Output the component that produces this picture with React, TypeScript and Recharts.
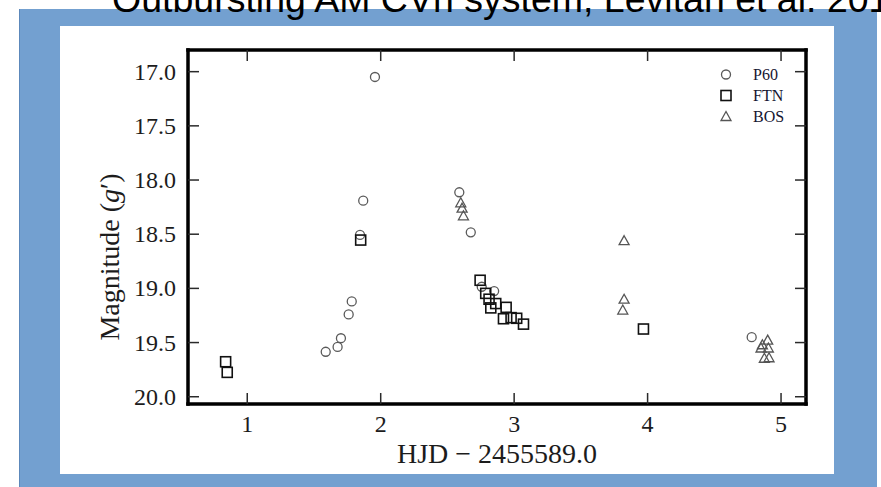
import React from 'react';
import { ScatterChart, Scatter, XAxis, YAxis, Legend } from 'recharts';

// ---- data ----
const p60X = [1.957, 1.869, 1.845, 1.783, 1.760, 1.702, 1.677, 1.588, 2.589, 2.675, 2.850, 2.757, 4.780];
const p60Y = [17.049, 18.191, 18.507, 19.120, 19.240, 19.460, 19.540, 19.585, 18.113, 18.483, 19.025, 18.985, 19.450];

const ftnX = [0.838, 0.850, 1.850, 2.745, 2.787, 2.812, 2.825, 2.862, 2.940, 2.920, 2.977, 3.019, 3.070, 3.969];
const ftnY = [19.677, 19.775, 18.554, 18.925, 19.046, 19.100, 19.180, 19.140, 19.175, 19.280, 19.270, 19.276, 19.330, 19.375];

const bosX = [2.600, 2.610, 2.620, 3.824, 3.824, 3.814, 4.900, 4.860, 4.850, 4.905, 4.875, 4.910];
const bosY = [18.210, 18.260, 18.330, 18.560, 19.100, 19.200, 19.477, 19.520, 19.550, 19.550, 19.645, 19.640];

const seriesNames = ['P60', 'FTN', 'BOS'];
const xTicks = [1, 2, 3, 4, 5];
const yTicks = [17.0, 17.5, 18.0, 18.5, 19.0, 19.5, 20.0];
const xDomain = [0.556, 5.187];
const yDomain = [16.8, 20.067];
const xLabel = 'HJD \u2212 2455589.0';
const yLabelMain = 'Magnitude (';
const yLabelVar = 'g';
const yLabelEnd = '\u2032)';
const titleText = 'Outbursting AM CVn system, Levitan et al. 2011';

const toPoints = (xs: number[], ys: number[]) => xs.map((x, i) => ({ x, y: ys[i] }));
const p60 = toPoints(p60X, p60Y);
const ftn = toPoints(ftnX, ftnY);
const bos = toPoints(bosX, bosY);

// ---- styles ----
const serif = "'Liberation Serif', 'Times New Roman', serif";
const textColor = '#1c1c1c';
const tickStroke = '#2a2a2a';
const frame = { stroke: '#000', strokeWidth: 3.5, strokeLinecap: 'square' as const };
const blue = '#73a0d0';

// ---- markers ----
const CircleMark = (p: any) => (
  <circle cx={p.cx} cy={p.cy} r={4.5} fill="none" stroke="#5a5a5a" strokeWidth={1.3} />
);
const SquareMark = (p: any) => (
  <rect x={p.cx - 5} y={p.cy - 5} width={10} height={10} fill="none" stroke="#111" strokeWidth={1.6} />
);
const TriMark = (p: any) => (
  <path
    d={`M${p.cx},${p.cy - 5} L${p.cx + 5},${p.cy + 4} L${p.cx - 5},${p.cy + 4} Z`}
    fill="none"
    stroke="#555"
    strokeWidth={1.3}
  />
);
const markers = [CircleMark, SquareMark, TriMark];

// ---- ticks ----
const BottomTick = (p: any) => (
  <g>
    <line x1={p.x} x2={p.x} y1={p.y} y2={p.y - 11} stroke={tickStroke} strokeWidth={1.5} />
    <text x={p.x} y={p.y + 28} textAnchor="middle" fontFamily={serif} fontSize={24} fill={textColor}>
      {p.payload.value}
    </text>
  </g>
);
const TopTick = (p: any) => (
  <line x1={p.x} x2={p.x} y1={p.y} y2={p.y + 11} stroke={tickStroke} strokeWidth={1.5} />
);
const LeftTick = (p: any) => (
  <g>
    <line x1={p.x} x2={p.x + 11} y1={p.y} y2={p.y} stroke={tickStroke} strokeWidth={1.5} />
    <text x={p.x - 12} y={p.y + 8} textAnchor="end" fontFamily={serif} fontSize={24} fill={textColor}>
      {Number(p.payload.value).toFixed(1)}
    </text>
  </g>
);
const RightTick = (p: any) => (
  <line x1={p.x} x2={p.x - 11} y1={p.y} y2={p.y} stroke={tickStroke} strokeWidth={1.5} />
);

// ---- axis labels ----
const XLabel = (props: any) => {
  const vb = props.viewBox || { x: 188, y: 404, width: 618, height: 40 };
  return (
    <text x={vb.x + vb.width / 2} y={vb.y + 59} textAnchor="middle" fontFamily={serif} fontSize={28} fill={textColor}>
      {xLabel}
    </text>
  );
};
const YLabel = (props: any) => {
  const vb = props.viewBox || { x: 108, y: 50, width: 80, height: 354 };
  const cx = vb.x + 11;
  const cy = vb.y + vb.height / 2 + 30;
  return (
    <text
      x={cx}
      y={cy}
      transform={`rotate(-90, ${cx}, ${cy})`}
      textAnchor="middle"
      fontFamily={serif}
      fontSize={28}
      fill={textColor}
    >
      {yLabelMain}
      <tspan fontStyle="italic">{yLabelVar}</tspan>
      {yLabelEnd}
    </text>
  );
};

// ---- legend ----
const LegendContent = () => (
  <div style={{ fontFamily: serif, fontSize: 16, color: '#151530', lineHeight: '21px' }}>
    {seriesNames.map((n, i) => {
      const M = markers[i];
      return (
        <div key={n} style={{ height: 21, display: 'flex', alignItems: 'center' }}>
          <svg width={20} height={21} style={{ display: 'block' }}>
            <M cx={10} cy={10.5} />
          </svg>
          <span style={{ marginLeft: 17 }}>{n}</span>
        </div>
      );
    })}
  </div>
);

export default function App() {
  return (
    <div
      style={{
        position: 'fixed',
        left: 0,
        top: 0,
        width: 881,
        height: 487,
        background: '#fff',
        overflow: 'hidden',
      }}
    >
      <div
        style={{
          position: 'absolute',
          left: 19,
          top: 9,
          width: 858,
          height: 478,
          background: blue,
          borderLeft: '1px solid #5c88bb',
          boxSizing: 'border-box',
        }}
      />
      <div style={{ position: 'absolute', left: 60, top: 26, width: 774, height: 448, background: '#fff' }} />
      <div
        style={{
          position: 'absolute',
          left: 112,
          top: -19,
          fontFamily: "'Liberation Sans', Arial, sans-serif",
          fontSize: 37.5,
          lineHeight: '37.5px',
          whiteSpace: 'nowrap',
          color: '#000',
        }}
      >
        {titleText}
      </div>
      <div style={{ position: 'absolute', left: 0, top: 0 }}>
        <ScatterChart width={881} height={487} margin={{ top: 49, right: 74, bottom: 43, left: 108 }}>
          <XAxis
            dataKey="x"
            type="number"
            domain={xDomain}
            ticks={xTicks}
            interval={0}
            allowDataOverflow
            height={40}
            tickSize={0}
            tickMargin={0}
            tickLine={false}
            tick={BottomTick}
            axisLine={frame}
            label={<XLabel />}
          />
          <XAxis
            xAxisId="top"
            dataKey="x"
            orientation="top"
            type="number"
            domain={xDomain}
            ticks={xTicks}
            interval={0}
            allowDataOverflow
            height={1}
            tickSize={0}
            tickMargin={0}
            tickLine={false}
            tick={TopTick}
            axisLine={frame}
          />
          <YAxis
            dataKey="y"
            type="number"
            reversed
            domain={yDomain}
            ticks={yTicks}
            interval={0}
            allowDataOverflow
            width={80}
            tickSize={0}
            tickMargin={0}
            tickLine={false}
            tick={LeftTick}
            axisLine={frame}
            label={<YLabel />}
          />
          <YAxis
            yAxisId="right"
            dataKey="y"
            orientation="right"
            type="number"
            reversed
            domain={yDomain}
            ticks={yTicks}
            interval={0}
            allowDataOverflow
            width={1}
            tickSize={0}
            tickMargin={0}
            tickLine={false}
            tick={RightTick}
            axisLine={frame}
          />
          <Legend
            layout="vertical"
            align="center"
            verticalAlign="middle"
            content={LegendContent}
            wrapperStyle={{ left: 716, top: 64, width: 90, height: 63 }}
          />
          <Scatter name="P60" data={p60} shape={CircleMark} isAnimationActive={false} />
          <Scatter name="FTN" data={ftn} shape={SquareMark} isAnimationActive={false} />
          <Scatter
            name="BOS"
            data={bos}
            shape={TriMark}
            xAxisId="top"
            yAxisId="right"
            isAnimationActive={false}
          />
        </ScatterChart>
      </div>
    </div>
  );
}
